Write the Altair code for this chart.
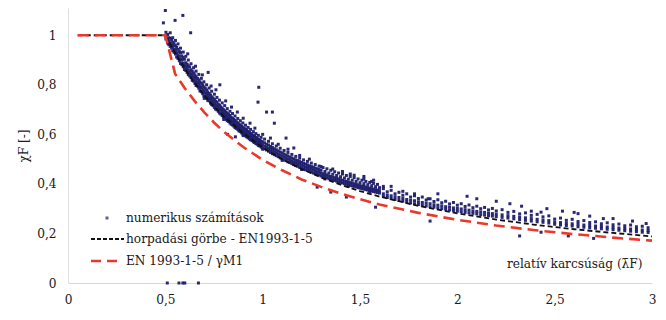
import altair as alt
import pandas as pd

# --- curves ---
black_lam = [0.05, 0.5, 0.55, 0.6, 0.65, 0.7, 0.75, 0.8, 0.9, 1.0, 1.1, 1.2, 1.3, 1.4, 1.5, 1.6,
             1.8, 2.0, 2.2, 2.4, 2.6, 2.8, 3.0]
black_chi = [1.0, 1.0, 0.929, 0.865, 0.808, 0.758, 0.713, 0.673, 0.604, 0.547, 0.500, 0.460, 0.426,
             0.397, 0.371, 0.349, 0.311, 0.281, 0.256, 0.235, 0.217, 0.202, 0.188]
red_lam = [0.05, 0.5, 0.55, 0.6, 0.65, 0.7, 0.75, 0.8, 0.9, 1.0, 1.1, 1.2, 1.3, 1.4, 1.5, 1.6,
           1.8, 2.0, 2.2, 2.4, 2.6, 2.8, 3.0]
red_chi = [1.0, 1.0, 0.845, 0.786, 0.735, 0.689, 0.648, 0.611, 0.549, 0.497, 0.455, 0.418,
           0.388, 0.361, 0.338, 0.317, 0.283, 0.255, 0.232, 0.213, 0.197, 0.183, 0.171]

# --- numerical results: main band, (lambda, [chi values]) ---
band = [
    (0.503, [0.985, 0.996, 1.012]), (0.512, [0.968, 0.981, 1.003]), (0.518, [0.962, 0.99, 0.975]),
    (0.525, [0.955, 0.97, 0.988, 1.01]), (0.532, [0.948, 0.961, 0.983]),
    (0.538, [0.937, 0.955, 0.972, 0.99]), (0.545, [0.931, 0.944, 0.966]),
    (0.552, [0.924, 0.94, 0.958, 0.979]), (0.558, [0.912, 0.93, 0.951]),
    (0.565, [0.906, 0.921, 0.943, 0.965]), (0.572, [0.897, 0.916, 0.934]),
    (0.578, [0.886, 0.905, 0.93, 0.948]), (0.585, [0.881, 0.899, 0.917]),
    (0.592, [0.873, 0.887, 0.91, 0.932]), (0.598, [0.862, 0.879, 0.903]),
    (0.605, [0.858, 0.873, 0.889, 0.915]), (0.612, [0.85, 0.868, 0.883]),
    (0.618, [0.841, 0.859, 0.877, 0.9]), (0.625, [0.836, 0.851, 0.872]),
    (0.632, [0.829, 0.844, 0.861, 0.885]), (0.638, [0.818, 0.838, 0.855]),
    (0.645, [0.815, 0.83, 0.848, 0.869]), (0.652, [0.806, 0.824, 0.84]),
    (0.658, [0.797, 0.815, 0.833, 0.855]), (0.665, [0.795, 0.809, 0.826]),
    (0.672, [0.786, 0.803, 0.82, 0.842]), (0.678, [0.775, 0.793, 0.812]),
    (0.685, [0.772, 0.789, 0.806, 0.826]), (0.692, [0.764, 0.78, 0.8]),
    (0.698, [0.755, 0.774, 0.791, 0.812]), (0.705, [0.754, 0.768, 0.786]),
    (0.712, [0.745, 0.762, 0.779, 0.8]), (0.718, [0.737, 0.755, 0.771]),
    (0.725, [0.735, 0.748, 0.765, 0.787]), (0.732, [0.726, 0.744, 0.759]),
    (0.738, [0.72, 0.736, 0.751, 0.774]), (0.745, [0.716, 0.731, 0.747]),
    (0.752, [0.709, 0.724, 0.741, 0.762]), (0.758, [0.702, 0.719, 0.734]),
    (0.765, [0.699, 0.713, 0.73, 0.749]), (0.772, [0.693, 0.707, 0.722]),
    (0.778, [0.686, 0.702, 0.717, 0.738]), (0.785, [0.682, 0.697, 0.711]),
    (0.792, [0.676, 0.69, 0.706, 0.727]), (0.798, [0.67, 0.686, 0.7]),
    (0.805, [0.668, 0.681, 0.695, 0.716]), (0.812, [0.661, 0.675, 0.69]),
    (0.818, [0.655, 0.671, 0.685, 0.704]), (0.825, [0.652, 0.666, 0.68]),
    (0.832, [0.646, 0.661, 0.676, 0.693]), (0.838, [0.641, 0.655, 0.669]),
    (0.845, [0.638, 0.651, 0.665, 0.684]), (0.852, [0.633, 0.647, 0.66]),
    (0.858, [0.627, 0.641, 0.656, 0.674]), (0.865, [0.624, 0.637, 0.651]),
    (0.872, [0.62, 0.632, 0.646, 0.664]), (0.878, [0.614, 0.628, 0.642]),
    (0.885, [0.611, 0.624, 0.638, 0.655]), (0.892, [0.606, 0.619, 0.633]),
    (0.898, [0.601, 0.615, 0.629, 0.646]), (0.905, [0.599, 0.611, 0.624]),
    (0.912, [0.594, 0.607, 0.621, 0.637]), (0.918, [0.59, 0.602, 0.616]),
    (0.925, [0.586, 0.599, 0.612, 0.628]), (0.932, [0.582, 0.594, 0.608]),
    (0.938, [0.578, 0.59, 0.603, 0.62]), (0.945, [0.575, 0.587, 0.6]),
    (0.952, [0.57, 0.583, 0.595, 0.611]), (0.958, [0.567, 0.579, 0.592]),
    (0.965, [0.563, 0.575, 0.588, 0.603]), (0.972, [0.56, 0.572, 0.584]),
    (0.978, [0.555, 0.568, 0.58, 0.596]), (0.985, [0.553, 0.565, 0.577]),
    (0.992, [0.549, 0.561, 0.573, 0.588]), (0.998, [0.545, 0.558, 0.57]),
    (1.01, [0.542, 0.553, 0.566, 0.581]), (1.02, [0.537, 0.548, 0.56]),
    (1.03, [0.532, 0.544, 0.557, 0.572]), (1.04, [0.527, 0.539, 0.551]),
    (1.05, [0.522, 0.535, 0.547, 0.562]), (1.06, [0.518, 0.53, 0.542]),
    (1.07, [0.514, 0.526, 0.538, 0.553]), (1.08, [0.51, 0.521, 0.533]),
    (1.09, [0.505, 0.517, 0.529, 0.544]), (1.10, [0.501, 0.513, 0.525]),
    (1.11, [0.497, 0.509, 0.521, 0.535]), (1.12, [0.494, 0.505, 0.516]),
    (1.13, [0.489, 0.501, 0.513, 0.527]), (1.14, [0.486, 0.497, 0.508]),
    (1.15, [0.482, 0.493, 0.505, 0.519]), (1.16, [0.478, 0.489, 0.501]),
    (1.17, [0.474, 0.486, 0.497, 0.511]), (1.18, [0.471, 0.482, 0.494]),
    (1.19, [0.467, 0.479, 0.49, 0.504]), (1.20, [0.464, 0.475, 0.487]),
    (1.21, [0.461, 0.472, 0.483, 0.497]), (1.22, [0.457, 0.468, 0.48]),
    (1.23, [0.454, 0.466, 0.477, 0.491]), (1.24, [0.451, 0.462, 0.473]),
    (1.25, [0.448, 0.459, 0.47, 0.484]), (1.26, [0.444, 0.456, 0.467]),
    (1.27, [0.442, 0.453, 0.464, 0.478]), (1.28, [0.438, 0.449, 0.461]),
    (1.29, [0.436, 0.447, 0.458, 0.472]), (1.30, [0.432, 0.443, 0.455]),
    (1.31, [0.43, 0.441, 0.466]), (1.32, [0.427, 0.438, 0.45]), (1.33, [0.425, 0.436, 0.461]),
    (1.34, [0.421, 0.432, 0.444]), (1.35, [0.419, 0.43, 0.455]), (1.36, [0.416, 0.427, 0.439]),
    (1.37, [0.414, 0.425, 0.449]), (1.38, [0.411, 0.422, 0.434]), (1.39, [0.409, 0.42, 0.444]),
    (1.40, [0.406, 0.417, 0.429]), (1.41, [0.404, 0.415, 0.44]), (1.42, [0.401, 0.412, 0.424]),
    (1.43, [0.399, 0.41, 0.434]), (1.44, [0.397, 0.407, 0.419]), (1.45, [0.394, 0.405, 0.43]),
    (1.46, [0.392, 0.403, 0.415]), (1.47, [0.39, 0.4, 0.425]), (1.48, [0.388, 0.398, 0.41]),
    (1.49, [0.385, 0.396, 0.42]), (1.50, [0.383, 0.393, 0.405]), (1.51, [0.381, 0.391, 0.415]),
    (1.52, [0.379, 0.39, 0.401]), (1.53, [0.377, 0.387, 0.41]), (1.54, [0.375, 0.385, 0.397]),
    (1.55, [0.373, 0.383, 0.406]), (1.56, [0.371, 0.381, 0.393]), (1.57, [0.369, 0.379, 0.402]),
    (1.58, [0.367, 0.377, 0.389]), (1.59, [0.365, 0.375, 0.398]), (1.60, [0.363, 0.373, 0.385]),
    (1.62, [0.349, 0.36, 0.381]), (1.64, [0.345, 0.355, 0.368]), (1.66, [0.341, 0.352, 0.374]),
    (1.68, [0.337, 0.348, 0.36]), (1.70, [0.333, 0.345, 0.366]), (1.72, [0.33, 0.341, 0.354]),
    (1.74, [0.327, 0.337, 0.36]), (1.76, [0.323, 0.334, 0.347]), (1.78, [0.32, 0.332, 0.352]),
    (1.80, [0.317, 0.328, 0.341]), (1.82, [0.314, 0.325, 0.347]), (1.84, [0.311, 0.322, 0.335]),
    (1.86, [0.308, 0.32, 0.34]), (1.88, [0.306, 0.316, 0.329]), (1.90, [0.303, 0.314, 0.336]),
    (1.92, [0.3, 0.311, 0.324]), (1.94, [0.298, 0.308, 0.33]), (1.96, [0.295, 0.306, 0.319]),
    (1.98, [0.293, 0.303, 0.325]), (2.00, [0.29, 0.301, 0.314]), (2.02, [0.288, 0.299, 0.32]),
    (2.04, [0.285, 0.296, 0.309]), (2.06, [0.283, 0.294, 0.315]), (2.08, [0.281, 0.291, 0.304]),
    (2.10, [0.279, 0.289, 0.31]), (2.12, [0.276, 0.287, 0.3]), (2.14, [0.274, 0.285, 0.305]),
    (2.16, [0.272, 0.282, 0.295]), (2.18, [0.27, 0.28, 0.301]), (2.20, [0.268, 0.278, 0.291]),
    (2.23, [0.265, 0.275, 0.296]), (2.26, [0.262, 0.272, 0.285]), (2.29, [0.259, 0.269, 0.289]),
    (2.32, [0.256, 0.266, 0.279]), (2.35, [0.253, 0.263, 0.283]), (2.38, [0.25, 0.26, 0.273]),
    (2.41, [0.247, 0.257, 0.277]), (2.44, [0.245, 0.254, 0.267]), (2.47, [0.242, 0.252, 0.271]),
    (2.50, [0.237, 0.246, 0.258]), (2.53, [0.234, 0.244, 0.262]), (2.56, [0.232, 0.241, 0.253]),
    (2.59, [0.23, 0.239, 0.257]), (2.62, [0.227, 0.237, 0.248]), (2.65, [0.225, 0.234, 0.252]),
    (2.68, [0.223, 0.232, 0.244]), (2.71, [0.221, 0.23, 0.247]), (2.74, [0.219, 0.228, 0.239]),
    (2.77, [0.217, 0.226, 0.243]), (2.80, [0.215, 0.224, 0.235]), (2.83, [0.213, 0.222, 0.238]),
    (2.86, [0.211, 0.22, 0.231]), (2.89, [0.209, 0.218, 0.234]), (2.92, [0.207, 0.216, 0.227]),
    (2.95, [0.205, 0.214, 0.229]), (2.98, [0.204, 0.212, 0.223]),
]

# --- numerical results: isolated points (lambda, chi) ---
outliers = [
    (0.49, 1.05), (0.50, 1.10), (0.55, 1.06), (0.59, 1.08), (0.63, 1.01), (0.72, 0.85),
    (0.78, 0.80), (0.98, 0.79), (0.976, 0.73), (1.02, 0.69), (1.05, 0.69), (1.06, 0.645),
    (1.12, 0.585), (1.16, 0.545), (0.82, 0.60), (0.86, 0.59), (1.28, 0.387), (1.35, 0.367),
    (1.43, 0.347), (1.58, 0.306), (1.56, 0.41), (1.62, 0.39), (1.72, 0.37), (1.78, 0.36),
    (1.85, 0.34), (1.86, 0.25), (2.38, 0.29), (2.43, 0.286), (2.54, 0.29), (2.32, 0.19),
    (2.43, 0.205), (2.57, 0.19), (2.70, 0.18), (2.62, 0.28), (2.68, 0.27), (2.75, 0.26),
    (1.45, 0.44), (1.52, 0.43), (1.66, 0.39), (1.90, 0.36), (2.05, 0.35), (2.10, 0.34),
    (2.20, 0.33), (2.27, 0.32), (2.33, 0.31), (2.46, 0.30), (2.60, 0.285), (2.80, 0.26),
    (2.90, 0.25), (2.97, 0.24),
    (0.615, 0.925), (0.655, 0.875), (0.69, 0.84), (0.735, 0.795), (0.76, 0.78), (0.81, 0.735),
    (0.84, 0.71), (0.87, 0.69), (0.90, 0.665), (0.935, 0.645), (0.96, 0.625), (1.00, 0.60),
    (1.04, 0.585), (1.08, 0.56), (1.13, 0.54), (1.19, 0.515), (1.24, 0.50), (1.30, 0.47),
    (1.36, 0.46), (1.41, 0.45), (1.47, 0.435), (1.52, 0.42), (1.57, 0.415), (0.70, 0.745),
    (0.80, 0.66), (0.90, 0.595), (1.00, 0.54), (1.10, 0.495), (1.20, 0.458), (1.32, 0.42),
    (1.44, 0.39), (1.55, 0.368),
    (0.51, 0.0), (0.57, 0.0), (0.59, 0.0), (0.60, 0.0), (0.67, 0.0),
]

x_ticks = [0, 0.5, 1, 1.5, 2, 2.5, 3]
y_ticks = [0, 0.2, 0.4, 0.6, 0.8, 1]

legend_labels = ["numerikus számítások", "horpadási görbe - EN1993-1-5", "EN 1993-1-5 / γM1"]

FONT = "DejaVu Serif Condensed, DejaVu Serif"
FS = 13.5
NAVY = "#1d1d6b"
RED = "#e8392a"
TXT = "#1a1a1a"

rows = [(lam, c) for lam, cs in band for c in cs] + outliers
pts_df = pd.DataFrame(rows, columns=["lam", "chi"])
black_df = pd.DataFrame({"lam": black_lam, "chi": black_chi, "i": range(len(black_lam))})
red_df = pd.DataFrame({"lam": red_lam, "chi": red_chi, "i": range(len(red_lam))})

label_expr = "replace(format(datum.value, '~g'), '.', ',')"

x_enc = alt.X(
    "lam:Q",
    scale=alt.Scale(domain=[0, 3], nice=False),
    axis=alt.Axis(
        values=x_ticks, labelExpr=label_expr, grid=False, ticks=False, labelFlush=False,
        domainColor="#d8d8d8", labelFont=FONT, labelFontSize=FS, labelColor=TXT,
        labelPadding=9, title="relatív karcsúság (λ̄F)", titleFont=FONT, titleFontSize=FS,
        titleFontWeight="normal", titleColor=TXT, titleAnchor="end", titleAlign="right",
        titleX=574, titleY=-20, titleBaseline="middle",
    ),
)
y_enc = alt.Y(
    "chi:Q",
    scale=alt.Scale(domain=[0, 1.11], nice=False),
    axis=alt.Axis(
        values=y_ticks, labelExpr=label_expr, grid=False, ticks=False, labelFlush=False,
        domainColor="#e0e0e0", labelFont=FONT, labelFontSize=FS, labelColor=TXT,
        labelPadding=12, title="χF [-]", titleFont=FONT, titleFontSize=FS,
        titleFontWeight="normal", titleColor=TXT, titlePadding=6,
    ),
)

scatter = alt.Chart(pts_df).mark_square(size=9, color=NAVY, opacity=0.95).encode(x=x_enc, y=y_enc)

black_line = alt.Chart(black_df).mark_line(
    color="#111", strokeWidth=1.8, strokeDash=[5, 3]
).encode(x="lam:Q", y="chi:Q", order="i:Q")

red_line = alt.Chart(red_df).mark_line(
    color=RED, strokeWidth=2.6, strokeDash=[11, 6]
).encode(x="lam:Q", y="chi:Q", order="i:Q")

# manual legend (inside the plot, lower left)
leg_dot = alt.Chart(pd.DataFrame({"k": [0]})).mark_square(size=9, color=NAVY).encode(
    x=alt.value(39), y=alt.value(210))
leg_black = alt.Chart(pd.DataFrame({"k": [0]})).mark_rule(
    color="#111", strokeWidth=1.8, strokeDash=[4, 2]
).encode(x=alt.value(23), x2=alt.value(56), y=alt.value(231))
leg_red = alt.Chart(pd.DataFrame({"k": [0]})).mark_rule(
    color=RED, strokeWidth=2.6, strokeDash=[10, 6]
).encode(x=alt.value(23), x2=alt.value(49), y=alt.value(253))

def leg_text(label, ypos):
    return alt.Chart(pd.DataFrame({"t": [label]})).mark_text(
        font=FONT, fontSize=FS, color=TXT, align="left", baseline="middle"
    ).encode(x=alt.value(58), y=alt.value(ypos), text="t:N")

legend = leg_dot + leg_black + leg_red + leg_text(legend_labels[0], 210) + \
    leg_text(legend_labels[1], 231) + leg_text(legend_labels[2], 253)

chart = (scatter + black_line + red_line + legend).properties(
    width=584, height=275,
    autosize=alt.AutoSizeParams(type="none"),
    padding={"left": 60, "top": 0, "right": 6, "bottom": 29},
).configure_view(stroke=None)

chart.save("out.html", embed_options={"renderer": "svg", "actions": False})
